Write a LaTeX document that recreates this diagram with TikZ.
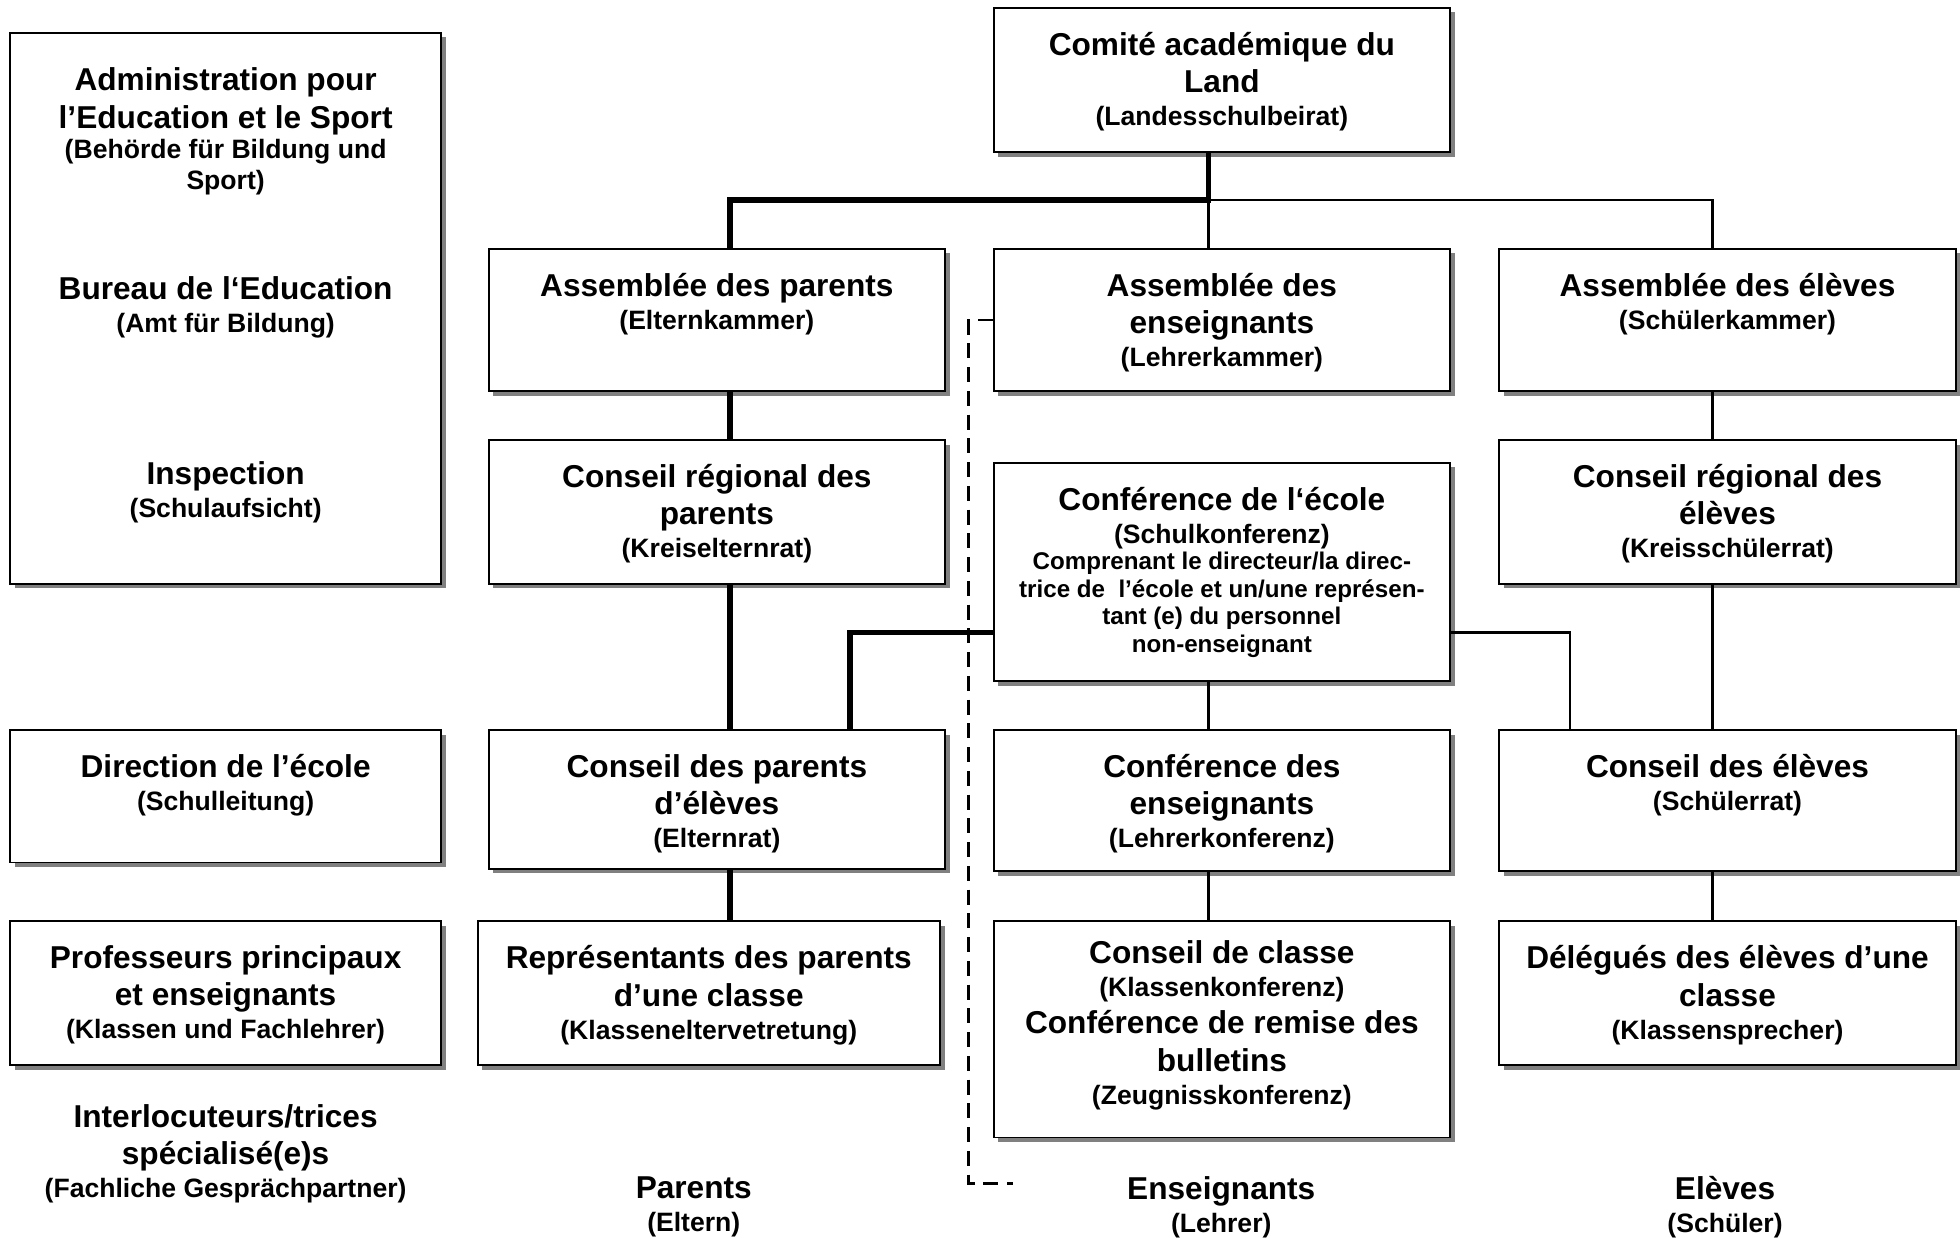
\documentclass[tikz,border=0pt]{standalone}
\usepackage{fontspec}
\setmainfont{Liberation Sans}
\usepackage{tikz}
\usetikzlibrary{shadows}

\newcommand{\grossschrift}{\fontsize{14.4}{17}\selectfont\bfseries}
\newcommand{\kleinschrift}{\fontsize{12.1}{14}\selectfont\bfseries}
\newcommand{\feinschrift}{\fontsize{11}{13}\selectfont\bfseries}

\tikzset{
	kasten/.style={draw=black, line width=0.9pt, fill=white, inner sep=0pt,
		minimum width=7.3cm, minimum height=2.28cm,
		drop shadow={shadow xshift=0.075cm, shadow yshift=-0.075cm, fill=black!50, opacity=1}},
	beschr/.style={align=center, inner sep=0pt, anchor=north, font=\grossschrift},
	dick/.style={line width=2.4pt},
	duenn/.style={line width=1.3pt},
	gestrichelt/.style={line width=1.2pt, dash pattern=on 0.24cm off 0.14cm}
}

\begin{document}
\begin{tikzpicture}[x=0.02cm, y=-0.02cm]
	\useasboundingbox (0,0) rectangle (1568,990);

	% linke Spalte: Verwaltung
	\node[kasten, minimum width=6.9cm, minimum height=8.82cm] (verw) at (180.5,246.5) {};
	\node[kasten, minimum width=6.9cm, minimum height=2.12cm] (sl) at (180.5,637) {};
	\node[kasten, minimum width=6.9cm, minimum height=2.3cm] (kfl) at (180.5,794.5) {};

	% Eltern
	\node[kasten] (apar) at (573.5,256) {};
	\node[kasten, minimum height=2.3cm] (krel) at (573.5,409.5) {};
	\node[kasten, minimum height=2.22cm] (erat) at (573.5,639.5) {};
	\node[kasten, minimum width=7.4cm, minimum height=2.3cm] (kev) at (567,794.5) {};

	% Lehrer
	\node[kasten, minimum height=2.32cm] (comite) at (977.5,64) {};
	\node[kasten] (aens) at (977.5,256) {};
	\node[kasten, minimum height=3.5cm] (skon) at (977.5,457.5) {};
	\node[kasten, minimum height=2.26cm] (lkon) at (977.5,640.5) {};
	\node[kasten, minimum height=3.46cm] (kkon) at (977.5,823.5) {};

	% Schueler
	\node[kasten, minimum width=7.32cm] (asch) at (1382,256) {};
	\node[kasten, minimum width=7.32cm, minimum height=2.3cm] (ksr) at (1382,409.5) {};
	\node[kasten, minimum width=7.32cm, minimum height=2.26cm] (srat) at (1382,640.5) {};
	\node[kasten, minimum width=7.32cm, minimum height=2.3cm] (ksp) at (1382,794.5) {};

	% Texte
	\node[beschr] (verw-a) at (180.5,54) {Administration pour\\l’Education et le Sport\\[-3.1pt]\kleinschrift (Behörde für Bildung und\\[-2.8pt]\kleinschrift Sport)};
	\node[beschr] (verw-b) at (180.5,221) {Bureau de l‘Education\\[-2pt]\kleinschrift (Amt für Bildung)};
	\node[beschr] (verw-c) at (180.5,369) {Inspection\\[-2pt]\kleinschrift (Schulaufsicht)};
	\node[beschr, yshift=-0.4cm] (sl-t) at (sl.north) {Direction de l’école\\[-2pt]\kleinschrift (Schulleitung)};
	\node[beschr, yshift=-0.4cm] (kfl-t) at (kfl.north) {Professeurs principaux\\et enseignants\\[-2pt]\kleinschrift (Klassen und Fachlehrer)};
	\node[beschr] (ansp) at (180.5,883) {Interlocuteurs/trices\\spécialisé(e)s\\[-2pt]\kleinschrift (Fachliche Gesprächpartner)};

	\node[beschr, yshift=-0.4cm] (apar-t) at (apar.north) {Assemblée des parents\\[-2pt]\kleinschrift (Elternkammer)};
	\node[beschr, yshift=-0.4cm] (krel-t) at (krel.north) {Conseil régional des\\parents\\[-2pt]\kleinschrift (Kreiselternrat)};
	\node[beschr, yshift=-0.4cm] (erat-t) at (erat.north) {Conseil des parents\\d’élèves\\[-2pt]\kleinschrift (Elternrat)};
	\node[beschr, yshift=-0.4cm] (kev-t) at (kev.north) {Représentants des parents\\d’une classe\\[-2pt]\kleinschrift (Klasseneltervetretung)};
	\node[beschr] (eltern) at (555,941) {Parents\\[-2pt]\kleinschrift (Eltern)};

	\node[beschr, yshift=-0.4cm] (comite-t) at (comite.north) {Comité académique du\\Land\\[-2pt]\kleinschrift (Landesschulbeirat)};
	\node[beschr, yshift=-0.4cm] (aens-t) at (aens.north) {Assemblée des\\enseignants\\[-2pt]\kleinschrift (Lehrerkammer)};
	\node[beschr, yshift=-0.4cm] (skon-t) at (skon.north) {Conférence de l‘école\\[-2pt]\kleinschrift (Schulkonferenz)\\[-4.9pt]\feinschrift Comprenant le directeur/la direc-\\[-4.5pt]\feinschrift trice de\ \ l’école et un/une représen-\\[-4.5pt]\feinschrift tant (e) du personnel\\[-4.5pt]\feinschrift non-enseignant};
	\node[beschr, yshift=-0.4cm] (lkon-t) at (lkon.north) {Conférence des\\enseignants\\[-2pt]\kleinschrift (Lehrerkonferenz)};
	\node[beschr, yshift=-0.32cm] (kkon-t) at (kkon.north) {Conseil de classe\\[-2pt]\kleinschrift (Klassenkonferenz)\\Conférence de remise des\\bulletins\\[-2pt]\kleinschrift (Zeugnisskonferenz)};
	\node[beschr] (lehrer) at (977,941) {Enseignants\\[-2pt]\kleinschrift (Lehrer)};

	\node[beschr, yshift=-0.4cm] (asch-t) at (asch.north) {Assemblée des élèves\\[-2pt]\kleinschrift (Schülerkammer)};
	\node[beschr, yshift=-0.4cm] (ksr-t) at (ksr.north) {Conseil régional des\\élèves\\[-2pt]\kleinschrift (Kreisschülerrat)};
	\node[beschr, yshift=-0.4cm] (srat-t) at (srat.north) {Conseil des élèves\\[-2pt]\kleinschrift (Schülerrat)};
	\node[beschr, yshift=-0.4cm] (ksp-t) at (ksp.north) {Délégués des élèves d’une\\classe\\[-2pt]\kleinschrift (Klassensprecher)};
	\node[beschr] (schueler) at (1380,941) {Elèves\\[-2pt]\kleinschrift (Schüler)};

	% Verbindungen
	\coordinate (kn) at (967,160);
	\coordinate (knl) at (584,160);
	\coordinate (knr) at (1370,160);
	\coordinate (sk-l) at (680,506);
	\coordinate (sk-r) at (1256,506);
	\coordinate (st1) at (775,256);
	\coordinate (st2) at (775,947);
	\coordinate (st3) at (810,947);

	\draw[duenn] (kn) -- (knr) -- (asch.north -| knr);
	\draw[duenn] (kn) -- (aens.north -| kn);
	\draw[dick] (comite.south -| kn) -- (kn) -- (knl) -- (apar.north -| knl);
	\draw[dick] (apar.south -| knl) -- (krel.north -| knl);
	\draw[dick] (krel.south -| knl) -- (erat.north -| knl);
	\draw[dick] (erat.south -| knl) -- (kev.north -| knl);
	\draw[dick] (skon.west |- sk-l) -- (sk-l) -- (erat.north -| sk-l);
	\draw[duenn] (skon.east |- sk-r) -- (sk-r) -- (srat.north -| sk-r);
	\draw[duenn] (skon.south -| kn) -- (lkon.north -| kn);
	\draw[duenn] (lkon.south -| kn) -- (kkon.north -| kn);
	\draw[duenn] (asch.south -| knr) -- (ksr.north -| knr);
	\draw[duenn] (ksr.south -| knr) -- (srat.north -| knr);
	\draw[duenn] (srat.south -| knr) -- (ksp.north -| knr);
	\draw[gestrichelt] (aens.west) -- (st1) -- (st2) -- (st3);
\end{tikzpicture}
\end{document}
